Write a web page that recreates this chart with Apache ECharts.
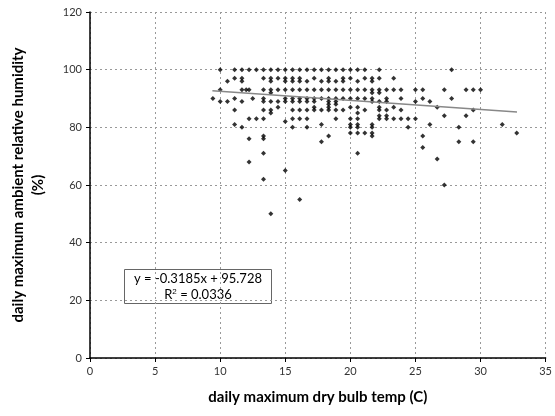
<!DOCTYPE html>
<html>
<head>
<meta charset="utf-8">
<script src="https://cdn.jsdelivr.net/npm/echarts@6/dist/echarts.min.js"></script>
<style>
  html, body { margin: 0; padding: 0; background: #fff; }
  #chart { width: 555px; height: 416px; }
</style>
</head>
<body>
<div id="chart"></div>
<script>
// temperatures (C) observed at each relative humidity level (%)
var t100 = [10.0, 11.11, 11.67, 12.22, 12.78, 13.33, 13.89, 14.44, 15.0, 15.56, 16.11, 16.67, 17.22, 17.78, 18.33, 18.89, 19.44, 20.0, 20.56, 21.11, 22.22, 27.78];
var t97 = [11.11, 11.67, 13.33, 13.89, 14.44, 15.0, 15.56, 16.11, 17.22, 18.33, 19.44, 20.0, 21.11, 21.67, 22.22, 23.33];
var t96 = [10.56, 11.67, 13.89, 15.0, 15.56, 16.11, 16.67, 17.78, 18.33, 18.89, 19.44, 20.56, 21.67];
var t93 = [10.0, 11.67, 12.0, 12.22, 13.33, 13.89, 14.44, 15.0, 15.56, 16.11, 16.67, 17.22, 17.78, 18.33, 18.89, 19.44, 20.0, 20.56, 21.11, 21.67, 22.22, 22.78, 23.33, 23.89, 25.0, 25.56, 27.22, 28.89, 29.44, 30.0];
var t92 = [13.89, 21.67, 22.22];
var t90 = [9.44, 11.11, 12.5, 13.33, 15.0, 15.56, 16.11, 16.67, 17.22, 17.78, 18.33, 18.89, 19.44, 20.0, 20.56, 21.11, 21.67, 22.78, 23.89, 25.56, 27.78];
var t89 = [10.0, 10.56, 11.67, 13.33, 13.89, 14.44, 15.0, 15.56, 16.11, 16.67, 17.22, 18.33, 18.89, 21.67, 22.22, 22.78, 25.0, 26.11];
var t88 = [18.33, 18.89];
var t87 = [14.44, 17.22, 18.33, 20.0, 20.56, 22.22, 23.33, 26.67];
var t86 = [11.11, 13.33, 13.89, 15.56, 16.11, 16.67, 17.22, 17.78, 18.33, 18.89, 19.44, 21.11, 22.22, 22.78, 23.89, 29.44];
var t85 = [13.89, 20.56];
var t84 = [22.22, 22.78, 27.22, 28.89];
var t83 = [12.22, 12.78, 13.33, 15.56, 16.11, 16.67, 18.89, 20.0, 20.56, 22.22, 22.78, 23.33, 23.89, 24.44, 25.0];
var t82 = [15.0];
var t81 = [11.11, 17.78, 20.0, 20.56, 21.67, 26.11, 31.67];
var t80 = [11.67, 15.56, 16.67, 20.0, 20.56, 21.67, 24.44, 28.33];
var t78 = [20.0, 20.56, 21.11, 21.67, 32.78];
var t77 = [13.33, 18.33, 21.67, 25.56];
var t76 = [12.22, 13.33];
var t75 = [17.78, 28.33, 29.44];
// scattered low readings [temp, rh]
var lowPoints = [[20.56, 71], [25.56, 73], [26.67, 69], [13.33, 71], [12.22, 68], [15.0, 65], [13.33, 62], [16.11, 55], [13.89, 50], [27.22, 60]];

// linear trend end points
var trendX = [9.4, 32.8];
var trendY = [92.73, 85.28];

var rows = [
  [100, t100], [97, t97], [96, t96], [93, t93], [92, t92], [90, t90], [89, t89],
  [88, t88], [87, t87], [86, t86], [85, t85], [84, t84], [83, t83], [82, t82],
  [81, t81], [80, t80], [78, t78], [77, t77], [76, t76], [75, t75]
];

var points = [];
rows.forEach(function (r) {
  r[1].forEach(function (t) { points.push([t, r[0]]); });
});
lowPoints.forEach(function (p) { points.push(p); });

var trend = trendX.map(function (x, i) { return [x, trendY[i]]; });

var font = 'Lato';
var chart = echarts.init(document.getElementById('chart'));

chart.setOption({
  animation: false,
  backgroundColor: '#fff',
  grid: { left: 88.5, right: 7.5, top: 12, bottom: 58 },
  xAxis: {
    type: 'value', min: 0, max: 35, interval: 5,
    name: 'daily maximum dry bulb temp (C)',
    nameLocation: 'middle', nameGap: 32,
    nameTextStyle: { fontFamily: font, fontWeight: 'bold', fontSize: 15, color: '#000' },
    axisLine: { onZero: false, lineStyle: { color: '#000', width: 1.5 } },
    axisTick: { show: true, length: 4, lineStyle: { color: '#000' } },
    axisLabel: { fontFamily: font, fontSize: 11, color: '#333', margin: 8 },
    splitLine: { show: true, lineStyle: { color: '#999', type: [2, 3], width: 1 } }
  },
  yAxis: {
    type: 'value', min: 0, max: 120, interval: 20,
    name: 'daily maximum ambient relative humidity\n(%)',
    nameLocation: 'middle', nameGap: 42,
    nameTextStyle: { fontFamily: font, fontWeight: 'bold', fontSize: 15, color: '#000', lineHeight: 20 },
    axisLine: { show: true, onZero: false, lineStyle: { color: '#000', width: 1.5 } },
    axisTick: { show: true, length: 4, lineStyle: { color: '#000' } },
    axisLabel: { fontFamily: font, fontSize: 11, color: '#333', margin: 8 },
    splitLine: { show: true, lineStyle: { color: '#999', type: [2, 3], width: 1 } }
  },
  series: [
    {
      type: 'scatter',
      data: points,
      symbol: 'diamond',
      symbolSize: 5,
      itemStyle: { color: '#000' }
    },
    {
      type: 'line',
      data: trend,
      symbol: 'none',
      lineStyle: { color: '#888', width: 1.5 },
      z: 3
    }
  ],
  graphic: [
    {
      type: 'group', left: 124, top: 269,
      children: [
        { type: 'rect', shape: { x: 0, y: 0, width: 147, height: 34 },
          style: { fill: '#fff', stroke: '#666', lineWidth: 1 } },
        { type: 'text', x: 73.5, y: 9,
          style: { text: 'y = -0.3185x + 95.728', fontFamily: font, fontSize: 13, fill: '#000',
                   align: 'center', verticalAlign: 'middle' } },
        { type: 'text', x: 73.5, y: 25,
          style: { text: 'R{s|2} = 0.0336', fontFamily: font, fontSize: 13, fill: '#000',
                   align: 'center', verticalAlign: 'middle',
                   rich: { s: { fontSize: 8, verticalAlign: 'top', padding: [0, 0, 6, 0] } } } }
      ]
    }
  ]
});
</script>
</body>
</html>
